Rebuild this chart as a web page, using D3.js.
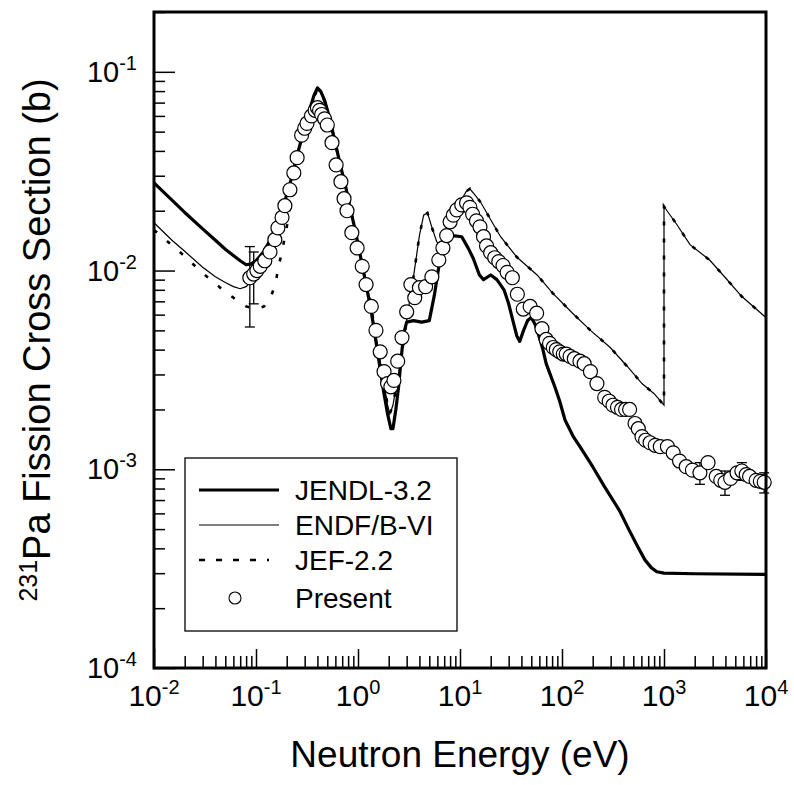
<!DOCTYPE html>
<html>
<head>
<meta charset="utf-8">
<script src="https://cdn.jsdelivr.net/npm/d3@7"></script>
<style>
  body { margin: 0; background: #fff; }
  text { font-family: "Liberation Sans", Arial, sans-serif; fill: #000; }
</style>
</head>
<body>
<script>
// ---- data (energy in eV, cross section in b) ----
const energyJendl = [0.01,0.015,0.02,0.03,0.04,0.05,0.06,0.07,0.08,0.09,0.1,0.12,0.14,0.16,0.19,0.22,0.26,0.30,0.34,0.37,0.40,0.43,0.47,0.52,0.59,0.67,0.75,0.85,0.95,1.05,1.2,1.35,1.5,1.65,1.8,1.95,2.1,2.2,2.35,2.5,2.65,2.8,3.0,3.5,4.2,5.0,5.6,6.3,7.0,8.5,10.4,12,13.5,15.5,17,20,23,27,30,33,36,38.5,42,46,50,55,60,65,70,85,95,107,130,150,200,260,366,450,550,650,750,850,1000,2000,10000];
const xsJendl = [0.0276,0.0226,0.0196,0.0162,0.0142,0.0128,0.0119,0.0112,0.0107,0.0108,0.0112,0.0125,0.0145,0.0170,0.0220,0.0285,0.040,0.053,0.066,0.076,0.083,0.080,0.072,0.060,0.0455,0.034,0.027,0.020,0.0155,0.012,0.0085,0.0062,0.0044,0.0032,0.0024,0.0019,0.0016,0.0016,0.0020,0.0026,0.0036,0.0048,0.0055,0.0056,0.0055,0.0056,0.0075,0.011,0.0148,0.0150,0.0148,0.013,0.0115,0.0095,0.0090,0.0095,0.0090,0.0080,0.0068,0.0056,0.0047,0.0044,0.0050,0.0056,0.0058,0.0053,0.0046,0.0040,0.0034,0.0026,0.0022,0.00177,0.00145,0.0013,0.00103,0.00082,0.00062,0.00050,0.00041,0.00035,0.00032,0.000305,0.0003,0.000298,0.000296];

const energyEndf = [0.01,0.015,0.02,0.03,0.04,0.05,0.06,0.07,0.08,0.09,0.1,0.12,0.14,0.16,0.19,0.22,0.26,0.30,0.34,0.37,0.40,0.43,0.47,0.52,0.59,0.67,0.75,0.85,0.95,1.05,1.2,1.35,1.5,1.65,1.8,1.95,2.05,2.2,2.4,2.6,2.9,3.2,3.5,4.0,4.4,4.8,5.3,5.9,6.5,7.5,8.5,10,11.5,12.5,14,16,20,25,36,57,81,127,190,297,435,608,800,1000,1000,1340,1800,2800,4000,5800,8600,10000];
const xsEndf = [0.0174,0.0142,0.0125,0.0104,0.0093,0.0087,0.0083,0.0081,0.0083,0.0088,0.0096,0.0118,0.0143,0.0172,0.0225,0.029,0.040,0.053,0.066,0.075,0.081,0.079,0.071,0.059,0.045,0.034,0.027,0.020,0.0155,0.0122,0.0088,0.0065,0.0047,0.0035,0.0027,0.0021,0.0019,0.0021,0.0027,0.0034,0.0050,0.0070,0.0093,0.0150,0.0190,0.0195,0.0165,0.0140,0.0130,0.0150,0.0180,0.0220,0.0250,0.0258,0.0240,0.0220,0.0180,0.0148,0.0117,0.0095,0.0077,0.0061,0.0050,0.0041,0.0033,0.0027,0.0024,0.0021,0.021,0.017,0.0135,0.0113,0.0092,0.0074,0.0062,0.0058];

const energyJef = [0.01,0.015,0.02,0.03,0.04,0.05,0.065,0.08,0.1,0.12,0.14,0.155,0.165,0.18,0.2,0.22,0.26,0.30,0.34,0.37,0.40,0.43,0.47,0.52,0.59,0.67,0.75,0.85,0.95,1.05,1.2,1.35,1.5,1.65,1.8,1.95,2.05,2.2,2.4,2.6,2.9,3.2,3.5,4.0,4.4,4.8,5.3,5.9,6.5,7.5,8.5,10,11.5,12.5,14,16,20,25,36,57,81,127,190,297,435,608,800,1000,1000,1340,1800,2800,4000,5800,8600,10000];
const xsJef = [0.0160,0.0134,0.0118,0.0097,0.0086,0.0078,0.0071,0.0066,0.0064,0.0066,0.0074,0.0085,0.0103,0.0125,0.0165,0.0225,0.039,0.053,0.066,0.075,0.081,0.079,0.071,0.059,0.045,0.034,0.027,0.020,0.0155,0.0122,0.0088,0.0065,0.0047,0.0035,0.0027,0.0021,0.0019,0.0021,0.0027,0.0034,0.0050,0.0070,0.0093,0.0150,0.0190,0.0195,0.0165,0.0140,0.0130,0.0150,0.0180,0.0220,0.0250,0.0258,0.0240,0.0220,0.0180,0.0148,0.0117,0.0095,0.0077,0.0061,0.0050,0.0041,0.0033,0.0027,0.0024,0.0021,0.021,0.017,0.0135,0.0113,0.0092,0.0074,0.0062,0.0058];

const energyPresent = [0.087,0.095,0.102,0.11,0.122,0.137,0.153,0.164,0.18,0.192,0.215,0.235,0.253,0.28,0.3,0.316,0.35,0.38,0.40,0.42,0.44,0.47,0.50,0.556,0.61,0.68,0.73,0.78,0.87,0.98,1.1,1.2,1.35,1.5,1.65,1.8,1.95,2.1,2.25,2.45,2.7,3.0,3.3,3.6,4.0,4.6,5.3,6.2,6.8,7.4,8.0,8.6,9.3,10.4,11.6,12.5,13.3,14.5,15.7,17,18.2,20,21.9,24,26.4,29,32.6,36.5,41.7,48.7,56.4,63.6,70,75.5,82,88,95,103,110,120,132,150,165,190,220,262,290,316,350,383,420,460,520,560,608,660,730,820,920,1080,1230,1420,1650,1900,2250,2700,3250,3600,3960,4500,5200,5800,6400,6900,8000,8800,9600];
const xsPresent = [0.0092,0.0096,0.0100,0.0105,0.0112,0.0124,0.0143,0.0164,0.0185,0.0212,0.0255,0.031,0.037,0.048,0.052,0.055,0.060,0.064,0.066,0.064,0.061,0.058,0.054,0.044,0.034,0.028,0.023,0.020,0.0155,0.013,0.0105,0.0085,0.0066,0.0050,0.0039,0.0031,0.0027,0.0026,0.0028,0.0035,0.0046,0.0062,0.0085,0.0073,0.0082,0.0083,0.0093,0.0113,0.0130,0.0150,0.0176,0.0190,0.0202,0.0214,0.0219,0.0208,0.0192,0.0178,0.0166,0.0148,0.0133,0.0123,0.0116,0.0111,0.0106,0.0098,0.0092,0.0076,0.0064,0.0066,0.0061,0.0051,0.0045,0.0043,0.0041,0.0040,0.0039,0.0038,0.0038,0.0037,0.0036,0.0035,0.0034,0.0031,0.0027,0.0023,0.0022,0.0021,0.00205,0.0020,0.0020,0.0020,0.0017,0.0016,0.00146,0.0014,0.00136,0.00132,0.0013,0.0013,0.00121,0.0011,0.00103,0.00099,0.00096,0.00108,0.00092,0.00088,0.00086,0.0009,0.00096,0.00098,0.00094,0.00092,0.00088,0.00087,0.00086];

// error bars shown on a few points only
const errEnergy = [0.087,0.095,2250,3960,5800,9600];
const errXs = [0.0092,0.0096,0.00096,0.00086,0.00098,0.00086];
const errSize = [0.0040,0.0028,0.00012,0.00012,0.0001,0.0001];

const legendLabels = ["JENDL-3.2","ENDF/B-VI","JEF-2.2","Present"];
const xDecades = [-2,-1,0,1,2,3,4];
const yDecades = [-1,-2,-3,-4];

// ---- layout ----
const W = 794, H = 785;
const margin = {top: 12, right: 28, bottom: 117, left: 154};
const width = W - margin.left - margin.right;
const height = H - margin.top - margin.bottom;

const svg = d3.select("body").append("svg")
    .attr("width", W)
    .attr("height", H);

const g = svg.append("g")
    .attr("transform", "translate(" + margin.left + "," + margin.top + ")");

const x = d3.scaleLog().domain([0.01, 10000]).range([0, width]);
const y = d3.scaleLog().domain([0.0001, 0.2]).range([height, 0]);

// minor tick values
const xMinor = [];
for (let e = -2; e < 4; e++) for (let k = 2; k <= 9; k++) xMinor.push(k * Math.pow(10, e));
const yMinor = [];
for (let e = -4; e < 0; e++) for (let k = 2; k <= 9; k++) if (k * Math.pow(10, e) <= 0.2) yMinor.push(k * Math.pow(10, e));

// ticks pointing inward
g.append("g").attr("transform", "translate(0," + height + ")")
    .call(d3.axisBottom(x).tickValues(xDecades.map(d => Math.pow(10, d))).tickSize(-19).tickFormat(""))
    .call(a => a.select(".domain").remove());
g.append("g").attr("transform", "translate(0," + height + ")")
    .call(d3.axisBottom(x).tickValues(xMinor).tickSize(-12).tickFormat(""))
    .call(a => a.select(".domain").remove());
g.append("g")
    .call(d3.axisLeft(y).tickValues(yDecades.map(d => Math.pow(10, d))).tickSize(-21).tickFormat(""))
    .call(a => a.select(".domain").remove());
g.append("g")
    .call(d3.axisLeft(y).tickValues(yMinor).tickSize(-11).tickFormat(""))
    .call(a => a.select(".domain").remove());
g.selectAll(".tick line").attr("stroke", "#000").attr("stroke-width", 1.5);

// tick labels with superscripts
const xl = g.selectAll(".xlab").data(xDecades).join("text")
    .attr("class", "xlab")
    .attr("x", d => x(Math.pow(10, d)))
    .attr("y", height + 38)
    .attr("text-anchor", "middle")
    .attr("font-size", 30);
xl.append("tspan").text("10");
xl.append("tspan").attr("font-size", 20).attr("dy", -12).text(d => d);

const yl = g.selectAll(".ylab").data(yDecades).join("text")
    .attr("class", "ylab")
    .attr("x", -17)
    .attr("y", d => y(Math.pow(10, d)) + 10)
    .attr("text-anchor", "end")
    .attr("font-size", 29);
yl.append("tspan").text("10");
yl.append("tspan").attr("font-size", 20).attr("dy", -12).text(d => d);

// axis titles
g.append("text")
    .attr("x", width / 2)
    .attr("y", height + 99)
    .attr("text-anchor", "middle")
    .attr("font-size", 37)
    .text("Neutron Energy (eV)");

const yt = svg.append("text")
    .attr("transform", "translate(50," + (margin.top + height / 2) + ") rotate(-90)")
    .attr("text-anchor", "middle")
    .attr("font-size", 38);
yt.append("tspan").attr("font-size", 25).attr("dy", -13).text("231");
yt.append("tspan").attr("dy", 13).text("Pa  Fission Cross Section (b)");

// curves
const line = d3.line().x(d => x(d[0])).y(d => y(d[1]));
const zip = (a, b) => a.map((v, i) => [v, b[i]]);

g.append("path").datum(zip(energyEndf, xsEndf))
    .attr("d", line).attr("fill", "none").attr("stroke", "#000").attr("stroke-width", 1.2);
g.append("path").datum(zip(energyJef, xsJef))
    .attr("d", line).attr("fill", "none").attr("stroke", "#000").attr("stroke-width", 2.6)
    .attr("stroke-dasharray", "4,13");
g.append("path").datum(zip(energyJendl, xsJendl))
    .attr("d", line).attr("fill", "none").attr("stroke", "#000").attr("stroke-width", 3.2)
    .attr("stroke-linejoin", "round");

// error bars
const errs = g.append("g").selectAll("g").data(errEnergy.map((e, i) => [e, errXs[i], errSize[i]])).join("g");
errs.append("line")
    .attr("x1", d => x(d[0])).attr("x2", d => x(d[0]))
    .attr("y1", d => y(d[1] - d[2])).attr("y2", d => y(d[1] + d[2]))
    .attr("stroke", "#000").attr("stroke-width", 1.3);
errs.append("line")
    .attr("x1", d => x(d[0]) - 5).attr("x2", d => x(d[0]) + 5)
    .attr("y1", d => y(d[1] - d[2])).attr("y2", d => y(d[1] - d[2]))
    .attr("stroke", "#000").attr("stroke-width", 1.3);
errs.append("line")
    .attr("x1", d => x(d[0]) - 5).attr("x2", d => x(d[0]) + 5)
    .attr("y1", d => y(d[1] + d[2])).attr("y2", d => y(d[1] + d[2]))
    .attr("stroke", "#000").attr("stroke-width", 1.3);

// present data points
g.append("g").selectAll("circle").data(zip(energyPresent, xsPresent)).join("circle")
    .attr("cx", d => x(d[0]))
    .attr("cy", d => y(d[1]))
    .attr("r", 7)
    .attr("fill", "#fff")
    .attr("stroke", "#000")
    .attr("stroke-width", 1.2);

// frame
g.append("rect").attr("width", width).attr("height", height)
    .attr("fill", "none").attr("stroke", "#000").attr("stroke-width", 3);

// legend
const lg = svg.append("g").attr("transform", "translate(185,458)");
lg.append("rect").attr("width", 272).attr("height", 173)
    .attr("fill", "#fff").attr("stroke", "#000").attr("stroke-width", 1.3);
const rowY = [32, 67, 102, 140];
const styles = [
  {w: 3.2, dash: null},
  {w: 1.2, dash: null},
  {w: 2.6, dash: "6,11"}
];
styles.forEach((s, i) => {
  lg.append("line").attr("x1", 14).attr("x2", i === 2 ? 84 : 94)
    .attr("y1", rowY[i]).attr("y2", rowY[i])
    .attr("stroke", "#000").attr("stroke-width", s.w)
    .attr("stroke-dasharray", s.dash);
});
lg.append("circle").attr("cx", 50).attr("cy", rowY[3]).attr("r", 6)
  .attr("fill", "#fff").attr("stroke", "#000").attr("stroke-width", 1.1);
lg.selectAll(".lt").data(legendLabels).join("text")
    .attr("x", 110)
    .attr("y", (d, i) => rowY[i] + 10)
    .attr("font-size", 28)
    .text(d => d);
</script>
</body>
</html>
